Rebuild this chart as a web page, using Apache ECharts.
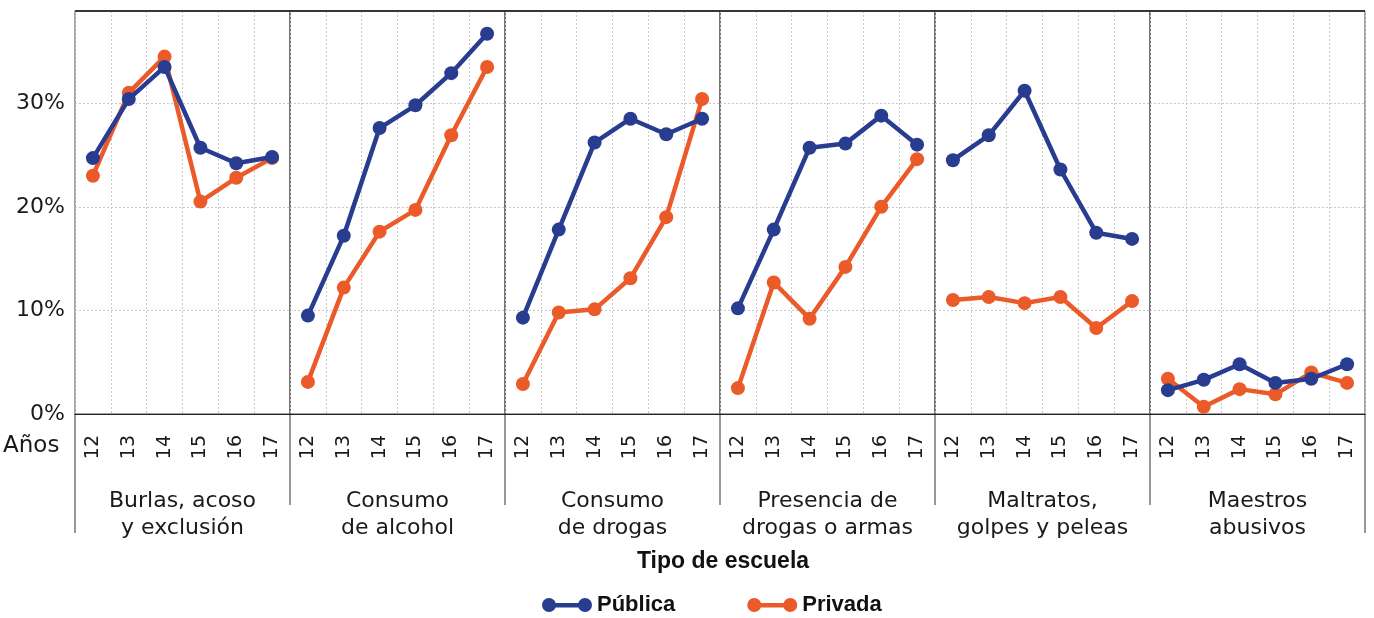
<!DOCTYPE html>
<html><head><meta charset="utf-8">
<script src="https://cdn.jsdelivr.net/npm/echarts@6/dist/echarts.min.js"></script>
<style>html,body{margin:0;padding:0;background:#fff}#c{width:1374px;height:618px}</style>
</head><body><div id="c"></div>
<script>
const categories = ['12','13','14','15','16','17'];
const panels = ['Burlas, acoso\ny exclusión','Consumo\nde alcohol','Consumo\nde drogas','Presencia de\ndrogas o armas','Maltratos,\ngolpes y peleas','Maestros\nabusivos'];
const publicaBurlas    = [24.7, 30.4, 33.5, 25.7, 24.2, 24.8];
const privadaBurlas    = [23.0, 31.0, 34.5, 20.5, 22.8, 24.7];
const publicaAlcohol   = [9.5, 17.2, 27.6, 29.8, 32.9, 36.7];
const privadaAlcohol   = [3.1, 12.2, 17.6, 19.7, 26.9, 33.5];
const publicaDrogas    = [9.3, 17.8, 26.2, 28.5, 27.0, 28.5];
const privadaDrogas    = [2.9, 9.8, 10.1, 13.1, 19.0, 30.4];
const publicaPresencia = [10.2, 17.8, 25.7, 26.1, 28.8, 26.0];
const privadaPresencia = [2.5, 12.7, 9.2, 14.2, 20.0, 24.6];
const publicaMaltratos = [24.5, 26.9, 31.2, 23.6, 17.5, 16.9];
const privadaMaltratos = [11.0, 11.3, 10.7, 11.3, 8.3, 10.9];
const publicaMaestros  = [2.3, 3.3, 4.8, 3.0, 3.4, 4.8];
const privadaMaestros  = [3.4, 0.7, 2.4, 1.9, 4.0, 3.0];
const publica = [publicaBurlas, publicaAlcohol, publicaDrogas, publicaPresencia, publicaMaltratos, publicaMaestros];
const privada = [privadaBurlas, privadaAlcohol, privadaDrogas, privadaPresencia, privadaMaltratos, privadaMaestros];
const yTicks = [0, 10, 20, 30];
const seriesNames = ['Pública', 'Privada'];

const BLUE = '#283C90', ORANGE = '#EB5A29';
const FONT = 'DejaVu Sans';
const BOLD = 'Liberation Sans';
const L = 75, PW = 215, TOP = 11, H = 403, BOTTOM_Y = TOP + H;
const YMAX = 38.9;

const grids = [], xAxes = [], yAxes = [], series = [];
panels.forEach((p, i) => {
  grids.push({left: L + i * PW, top: TOP, width: PW, height: H, show: true, borderColor: '#444', borderWidth: 1, containLabel: false});
  xAxes.push({
    type: 'category', gridIndex: i, data: categories, boundaryGap: true,
    axisLine: {show: true, lineStyle: {color: '#222', width: 1.2}},
    axisTick: {show: false},
    axisLabel: {rotate: 90, fontSize: 19, color: '#1a1a1a', fontFamily: FONT, margin: 21},
    splitLine: {show: true, interval: 0, lineStyle: {color: '#c8c8c8', type: [2, 2], width: 1}},
    name: p, nameLocation: 'middle', nameGap: 74,
    nameTextStyle: {fontSize: 22, color: '#1a1a1a', fontFamily: FONT, lineHeight: 27, align: 'center'}
  });
  yAxes.push({
    type: 'value', gridIndex: i, min: 0, max: YMAX, interval: 10,
    axisLine: {show: false}, axisTick: {show: false},
    axisLabel: {show: i === 0, fontSize: 22, color: '#1a1a1a', fontFamily: FONT, margin: 10,
      formatter: v => yTicks.includes(Math.round(v * 10) / 10) ? v + '%' : ''},
    splitLine: {show: true, lineStyle: {color: '#c8c8c8', type: [2, 2], width: 1}}
  });
  series.push({
    name: seriesNames[1], type: 'line', xAxisIndex: i, yAxisIndex: i, data: privada[i],
    symbol: 'circle', symbolSize: 14, lineStyle: {color: ORANGE, width: 4.5},
    itemStyle: {color: ORANGE}, z: 3, animation: false
  });
  series.push({
    name: seriesNames[0], type: 'line', xAxisIndex: i, yAxisIndex: i, data: publica[i],
    symbol: 'circle', symbolSize: 14, lineStyle: {color: BLUE, width: 4.5},
    itemStyle: {color: BLUE}, z: 4, animation: false
  });
});

const graphics = [];
for (let i = 0; i <= panels.length; i++) {
  const x = L + i * PW;
  const end = (i === 0 || i === panels.length) ? 533 : 505;
  graphics.push({type: 'line', shape: {x1: x, y1: BOTTOM_Y, x2: x, y2: end}, style: {stroke: '#333', lineWidth: 1}, silent: true});
}
graphics.push({type: 'text', x: 3, y: 446, style: {text: 'Años', font: '23px "DejaVu Sans"', fill: '#1a1a1a', textVerticalAlign: 'middle'}});
graphics.push({type: 'text', x: L + PW * panels.length / 2 + 3, y: 562, style: {text: 'Tipo de escuela', font: 'bold 23px "Liberation Sans"', fill: '#111', textAlign: 'center', textVerticalAlign: 'middle'}});
graphics.push({type: 'line', shape: {x1: L, y1: TOP, x2: L + PW * panels.length, y2: TOP}, style: {stroke: '#111', lineWidth: 1.5}, silent: true, z: 10});

const icon = 'path://M0,7a7,7 0 1,1 14,0a7,7 0 1,1 -14,0Z M36,7a7,7 0 1,1 14,0a7,7 0 1,1 -14,0Z M7,5h36v4.4h-36Z';
const chart = echarts.init(document.getElementById('c'), null, {renderer: 'canvas'});
chart.setOption({
  animation: false,
  grid: grids, xAxis: xAxes, yAxis: yAxes, series: series,
  legend: {
    data: [{name: 'Pública', icon: icon, itemStyle: {color: BLUE}}, {name: 'Privada', icon: icon, itemStyle: {color: ORANGE}}],
    left: 537, top: 589, itemWidth: 50, itemHeight: 14, itemGap: 72,
    textStyle: {fontSize: 22, fontWeight: 'bold', color: '#111', fontFamily: BOLD}
  },
  graphic: graphics
});
</script></body></html>
